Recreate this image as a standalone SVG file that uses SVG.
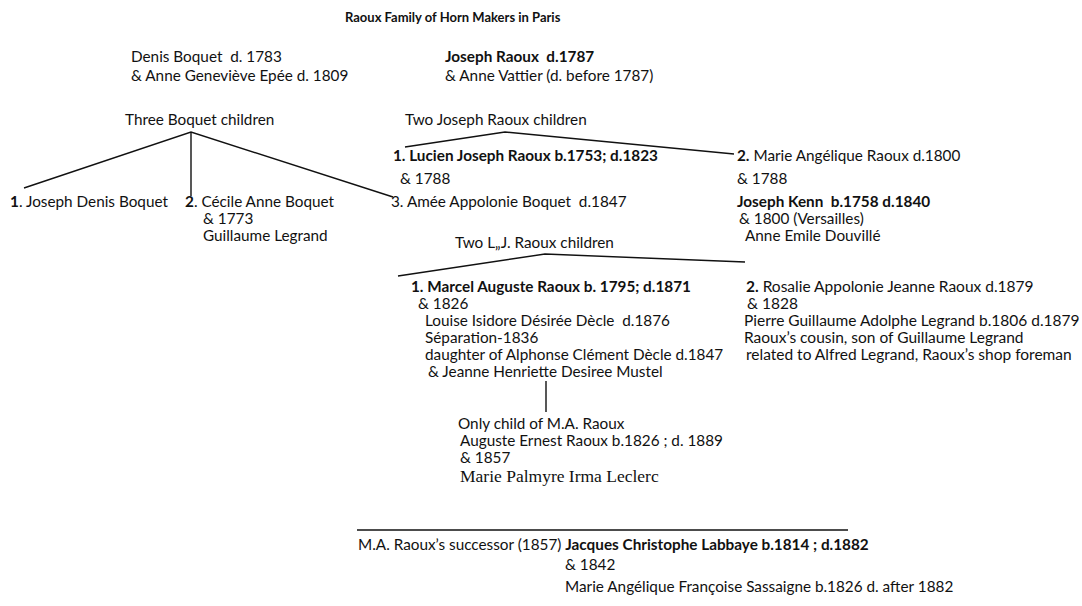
<svg xmlns="http://www.w3.org/2000/svg" width="1082" height="606" viewBox="0 0 1082 606">
<style>
text{font-family:Lato,"Open Sans","Liberation Sans",sans-serif;font-size:15.3px;fill:#111;white-space:pre}
.b{font-weight:bold}
.t{font-weight:bold;font-size:13px}
.r text{font-size:15.5px}
.serif{font-family:"Liberation Serif","DejaVu Serif",serif;font-size:17.5px}
.ln{stroke:#111;stroke-width:1.4;fill:none}
</style>
<rect width="1082" height="606" fill="#fff"/>
<g id="title"><text class="t" x="345" y="22">Raoux Family of Horn Makers in Paris</text></g>
<g id="denis-boquet">
<text x="131" y="62">Denis Boquet  d. 1783</text>
<text x="131" y="81">&amp; Anne Geneviève Epée d. 1809</text>
</g>
<g id="joseph-raoux">
<text x="445" y="62" class="b">Joseph Raoux  d.1787</text>
<text x="445" y="81">&amp; Anne Vattier (d. before 1787)</text>
</g>
<g id="three-boquet-children"><text x="125" y="125">Three Boquet children</text></g>
<g id="two-joseph-raoux-children"><text x="405" y="125">Two Joseph Raoux children</text></g>
<g id="joseph-denis-boquet"><text x="10" y="207"><tspan class="b">1</tspan>. Joseph Denis Boquet</text></g>
<g id="cecile-anne-boquet">
<text x="185" y="207"><tspan class="b">2</tspan>. Cécile Anne Boquet</text>
<text x="203" y="224">&amp; 1773</text>
<text x="203" y="241">Guillaume Legrand</text>
</g>
<g id="lucien-joseph-raoux">
<text x="393" y="161" class="b">1. Lucien Joseph Raoux b.1753; d.1823</text>
<text x="400" y="184">&amp; 1788</text>
<text x="391" y="207">3. Amée Appolonie Boquet  d.1847</text>
</g>
<g id="marie-angelique-raoux">
<text x="737" y="161"><tspan class="b">2.</tspan> Marie Angélique Raoux d.1800</text>
<text x="737" y="184">&amp; 1788</text>
<text x="737" y="207" class="b">Joseph Kenn  b.1758 d.1840</text>
<text x="739" y="224">&amp; 1800 (Versailles)</text>
<text x="745" y="241">Anne Emile Douvillé</text>
</g>
<g id="two-lj-raoux-children"><text x="455" y="248">Two L„J. Raoux children</text></g>
<g id="marcel-auguste-raoux">
<text x="411" y="292" class="b">1. Marcel Auguste Raoux b. 1795; d.1871</text>
<text x="418" y="309">&amp; 1826</text>
<text x="425" y="326">Louise Isidore Désirée Dècle  d.1876</text>
<text x="425" y="343">Séparation-1836</text>
<text x="425" y="360">daughter of Alphonse Clément Dècle d.1847</text>
<text x="428" y="377">&amp; Jeanne Henriette Desiree Mustel</text>
</g>
<g id="rosalie-appolonie-raoux" class="r">
<text x="746" y="292"><tspan class="b">2.</tspan> Rosalie Appolonie Jeanne Raoux d.1879</text>
<text x="747" y="309">&amp; 1828</text>
<text x="744" y="326">Pierre Guillaume Adolphe Legrand b.1806 d.1879</text>
<text x="744" y="343">Raoux’s cousin, son of Guillaume Legrand</text>
<text x="746" y="360">related to Alfred Legrand, Raoux’s shop foreman</text>
</g>
<g id="auguste-ernest-raoux">
<text x="458" y="429">Only child of M.A. Raoux</text>
<text x="460" y="446">Auguste Ernest Raoux b.1826 ; d. 1889</text>
<text x="460" y="463">&amp; 1857</text>
<text x="460" y="482" class="serif">Marie Palmyre Irma Leclerc</text>
</g>
<g id="labbaye">
<text x="358" y="550">M.A. Raoux’s successor (1857) <tspan class="b">Jacques Christophe Labbaye b.1814 ; d.1882</tspan></text>
<text x="565" y="570">&amp; 1842</text>
<text x="565" y="592">Marie Angélique Françoise Sassaigne b.1826 d. after 1882</text>
</g>
<g id="connectors" class="ln">
<path d="M24,188 L191,132 L393,197"/>
<path d="M191,132 V196"/>
<path d="M405,147 L505,132 L734,154"/>
<path d="M398,276 L545,254 L745,262"/>
<path d="M546,381 V412"/>
<path d="M357,530 H848"/>
</g>
</svg>
